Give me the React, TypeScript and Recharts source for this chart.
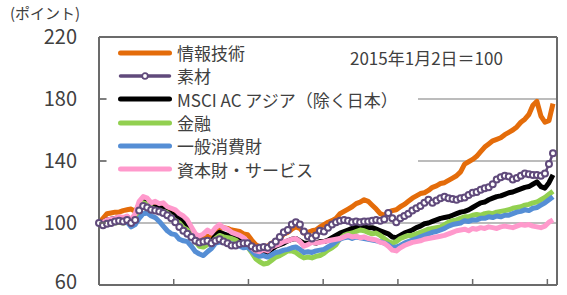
import { LineChart, Line, XAxis, YAxis, CartesianGrid, Legend, ReferenceLine } from "recharts";

const FONT = '"Noto Sans CJK JP", "Noto Sans", sans-serif';
const AXIS = "#6b6b6b";
const TEXT = "#404040";

// 週次系列（2015年1月2日＝100）
const infoTech = [
  100, 103, 106, 106.5, 107, 107, 108, 108.5, 109, 107.5,
  112, 115, 114, 112, 111.5, 111, 110, 108.5, 107.5, 105.5,
  104, 101.5, 99, 96, 92, 90, 91, 91.5, 90, 94,
  96.5, 97, 96.5, 95.5, 95, 94.5, 93, 92.5, 89, 86,
  84.5, 85, 85, 87, 88, 90, 93, 94, 96, 97.5,
  96.5, 93.5, 94, 95, 95.5, 97.5, 99, 100.5, 101.5, 103,
  106, 107.5, 109, 110.5, 112.5, 113.5, 115, 114, 111.5, 109,
  106, 105, 107, 108, 108.5, 110.5, 112, 114, 116, 117.5,
  119, 119.5, 121, 123, 124, 125.5, 126, 127.5, 129, 130.5,
  133, 138, 139.5, 141, 143, 146, 149, 151, 153, 154,
  155, 157, 158.5, 160, 162, 165, 167, 170, 176, 178.5,
  169, 165, 166, 177,
];
const materials = [
  100, 98.5, 99.5, 100, 101, 101.5, 101, 102, 100, 102,
  108, 111, 110, 108.5, 108, 107.5, 106.5, 105, 103, 100.5,
  97.5, 95, 93, 91, 88.5, 87.5, 88, 88.5, 87, 88.5,
  89.5, 88, 87, 85.5, 85.5, 86.5, 87, 87, 85, 83.5,
  84, 84.5, 84, 86, 88, 91, 94, 95.5, 99, 100.5,
  99, 94.5, 91.5, 90, 92, 95, 94.5, 97, 99, 100.5,
  101.5, 102, 101.5, 100.5, 101, 100.5, 101, 101, 101.5, 102,
  101.5, 102.5, 106.5, 103, 100.5, 103, 104.5, 106, 108, 109.5,
  111, 113, 115, 113, 114.5, 116, 117, 116, 115.5, 115,
  116, 116.5, 118, 119.5, 120, 121.5, 122.5, 123, 125, 128,
  129.5, 130.5, 130, 128, 129, 130.5, 132, 131.5, 131, 131,
  130.5, 132, 138, 145,
];
const msciAsia = [
  100, 100.5, 102, 102.5, 103, 103.5, 103, 104, 102, 104,
  111, 115, 113.5, 111, 110, 110.5, 109, 107, 106, 104.5,
  103.5, 100.5, 97.5, 94, 89.5, 88, 88.5, 89, 88, 92,
  94, 93, 92, 91, 90.5, 89.5, 88.5, 88, 85, 82.5,
  81.5, 81, 81, 83, 85, 86, 87, 88.5, 89.5, 90,
  88.5, 87, 87, 87.5, 87, 88, 88, 89, 90.5, 92,
  93.5, 94.5, 95.5, 96.5, 97.5, 98, 97.5, 97, 97, 96,
  95, 94, 93, 91, 90.5, 92, 93.5, 94.5, 95.5, 97,
  98, 99.5, 100, 101, 102, 103, 103.5, 104, 105, 106,
  107, 107.5, 108.5, 110, 111.5, 113, 113.5, 115, 116, 117,
  117.5, 118.5, 119.5, 120, 121, 122, 123, 123.5, 125, 126.5,
  123.5, 122.5, 126, 131,
];
const financials = [
  100, 100, 100.5, 100, 100, 100.5, 100, 100.5, 99.5, 102,
  108, 113, 112, 110, 108.5, 108, 107.5, 106.5, 104, 101.5,
  100, 97, 95.5, 93, 88, 85, 84.5, 86, 87.5, 90,
  92, 91, 90.5, 90, 89, 87, 85.5, 84.5, 81, 77,
  75, 73.5, 74, 76, 78, 79, 80.5, 82, 82, 81,
  79, 77.5, 78, 77.5, 78.5, 79, 80.5, 82.5, 84, 86,
  90, 92, 93, 93.5, 94.5, 95.5, 95, 94, 93, 93.5,
  92, 90, 88, 87, 88, 90, 91, 92, 92, 93,
  94, 95, 96, 96.5, 97, 97.5, 99, 100.5, 101.5, 102,
  103, 104, 104, 105, 105.5, 105, 106, 106.5, 106, 107,
  107.5, 108, 108.5, 109.5, 110, 110.5, 111.5, 112, 113, 113.5,
  115, 116.5, 118.5, 120.5,
];
const consumer = [
  100, 99.5, 100.5, 100, 101, 101.5, 101, 100.5, 97.5, 99,
  103, 106, 106.5, 104.5, 103.5, 101, 98, 95, 93, 92.5,
  89.5, 88.5, 88, 85, 81.5, 80, 79, 81.5, 83.5, 87,
  87.5, 88, 87, 86.5, 86, 85, 84, 84.5, 82, 79.5,
  78.5, 79, 78, 79.5, 81, 81.5, 82.5, 83, 84, 84.5,
  83, 81, 81.5, 81, 82, 82.5, 83, 84.5, 86, 88,
  89.5, 90.5, 91, 90, 91, 90.5, 90, 89.5, 89, 88.5,
  88, 87, 86, 84, 84.5, 85.5, 87, 88, 89, 90,
  91, 92, 93, 94, 94.5, 95.5, 96.5, 98, 99, 99.5,
  100, 101.5, 101, 102, 102, 103, 103, 104, 103.5, 104.5,
  104, 105, 105, 106, 107, 107.5, 108.5, 108, 109.5, 110,
  111.5, 113, 115, 117,
];
const industrials = [
  100, 100.5, 102, 102.5, 103, 104, 103.5, 104.5, 102, 106,
  114, 117, 116, 113, 114, 112.5, 113, 110.5, 109.5, 108.5,
  106, 104.5, 102, 97.5, 93, 91.5, 93, 95.5, 93.5, 97,
  99, 97, 96, 94, 93, 92, 90.5, 88, 84, 82,
  81.5, 83, 82, 84.5, 85.5, 86.5, 88, 88.5, 89.5, 90,
  88, 85, 86, 87.5, 87, 87.5, 88, 88.5, 89, 89.5,
  90, 91, 92, 91, 91.5, 90.5, 91, 90, 89.5, 89,
  87.5, 87, 85, 82.5, 82, 84, 85.5, 86.5, 87.5, 88,
  88.5, 89.5, 90, 90.5, 91, 91.5, 92, 93, 94, 95,
  95.5, 96, 95, 96.5, 96, 97, 96.5, 97.5, 97, 96.5,
  97.5, 98, 97.5, 97, 98, 99, 98.5, 99, 98, 97.5,
  97, 98, 100.5, 102,
];

const names = ["情報技術", "素材", "MSCI AC アジア（除く日本）", "金融", "一般消費財", "資本財・サービス"];
const colors = ["#E46C0A", "#604A7B", "#000000", "#92D050", "#558ED5", "#FF99CC"];
const keys = ["it", "mat", "msci", "fin", "cons", "ind"];
const series = [infoTech, materials, msciAsia, financials, consumer, industrials];

const yTicks = [60, 100, 140, 180, 220];
const xTicks = [0, 18.6, 37.2, 55.8, 74.4, 93, 111.6];

const rows = infoTech.map((_, i) => {
  const r: any = { i };
  keys.forEach((k, s) => (r[k] = series[s][i]));
  return r;
});

function XTick({ x, y }: any) {
  if (x < 101) return <g />;
  return <line x1={x} x2={x} y1={y} y2={y - 6} stroke={AXIS} strokeWidth={1.5} />;
}

function YTick({ x, y, payload }: any) {
  // 最下段のラベルは下端に収まるよう少し上げる
  const ty = payload.value === 60 ? y - 3 : y;
  return (
    <g>
      <line x1={x} x2={x + 7} y1={y} y2={y} stroke={AXIS} strokeWidth={1.5} />
      <text x={x - 22} y={ty} dy="0.36em" textAnchor="end" fontSize={20} fill={TEXT} fontFamily={FONT}>
        {payload.value}
      </text>
    </g>
  );
}

function LegendBox() {
  return (
    <div style={{ background: "#fff", width: 311, height: 141, paddingTop: 2, boxSizing: "border-box", fontFamily: FONT }}>
      {names.map((n, s) => (
        <div key={n} style={{ display: "flex", alignItems: "center", height: 23.3 }}>
          <svg width={70} height={12} style={{ flexShrink: 0 }}>
            <line x1={13.5} x2={62.5} y1={6} y2={6} stroke={colors[s]} strokeWidth={s === 1 ? 3.5 : 5} strokeLinecap="round" />
            {s === 1 && <circle cx={38} cy={6} r={2.8} fill="#fff" stroke={colors[1]} strokeWidth={1.8} />}
          </svg>
          <span style={{ fontSize: 17, color: TEXT, lineHeight: "23px", whiteSpace: "nowrap" }}>{n}</span>
        </div>
      ))}
    </div>
  );
}

export default function App() {
  return (
    <div style={{ position: "absolute", left: 0, top: 0, width: 567, height: 295, background: "#fff", fontFamily: FONT }}>
      <div style={{ position: "absolute", left: 10, top: 2, fontSize: 15, lineHeight: "22px", color: TEXT }}>(ポイント)</div>
      <LineChart width={567} height={295} data={rows} margin={{ top: 37, right: 10, bottom: 0, left: 0 }}>
        <CartesianGrid vertical={false} stroke="#a6a6a6" strokeWidth={1.5} />
        <XAxis
          type="number"
          dataKey="i"
          domain={[0, 114]}
          ticks={xTicks}
          interval={0}
          height={10}
          axisLine={{ stroke: AXIS, strokeWidth: 2 }}
          tickLine={false}
          tickSize={0}
          tickMargin={0}
          tick={(p: any) => <XTick {...p} />}
        />
        <YAxis
          type="number"
          domain={[60, 220]}
          ticks={yTicks}
          interval={0}
          width={99}
          axisLine={{ stroke: AXIS, strokeWidth: 2 }}
          tickLine={false}
          tickSize={0}
          tickMargin={0}
          tick={(p: any) => <YTick {...p} />}
        />
        <ReferenceLine y={220} stroke={AXIS} strokeWidth={2} />
        <ReferenceLine x={114} stroke={AXIS} strokeWidth={2} />
        <Legend
          layout="vertical"
          align="center"
          verticalAlign="middle"
          content={() => <LegendBox />}
          wrapperStyle={{ left: 107, top: 39, width: 311, height: 141, margin: 0 }}
        />
        {keys.map((k, s) => (
          <Line
            key={k}
            dataKey={k}
            name={names[s]}
            type="linear"
            stroke={colors[s]}
            strokeWidth={s === 1 ? 2.5 : 5}
            strokeLinejoin="round"
            dot={s === 1 ? { r: 3, fill: "#fff", stroke: colors[1], strokeWidth: 2 } : false}
            activeDot={false}
            isAnimationActive={false}
          />
        ))}
      </LineChart>
      <div style={{ position: "absolute", left: 350, top: 46, fontSize: 17, lineHeight: "24px", color: TEXT, whiteSpace: "nowrap" }}>
        2015年1月2日＝100
      </div>
    </div>
  );
}
